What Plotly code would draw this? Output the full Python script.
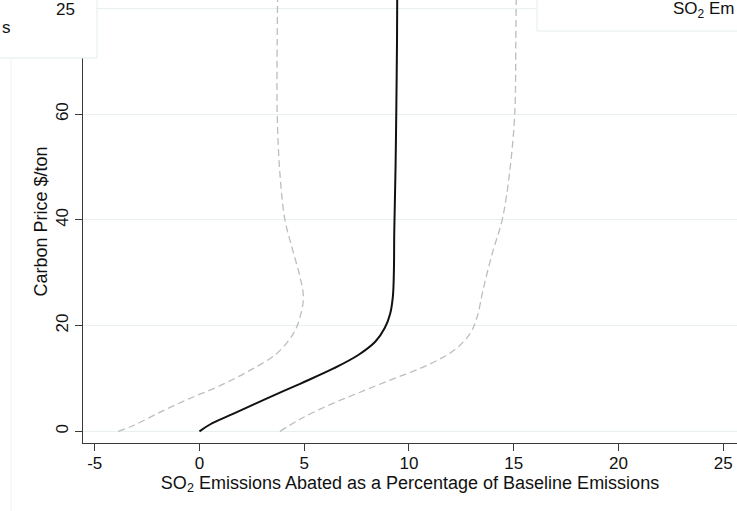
import plotly.graph_objects as go

# Central estimate: abatement (%) vs carbon price ($/ton)
fit_abate = [0, 0.5, 1.6, 3.2, 4.8, 6.4, 7.6, 8.4, 8.85, 9.1, 9.23, 9.28, 9.3, 9.36, 9.4, 9.43, 9.44]
fit_price = [0, 1.3, 3.3, 6.2, 9.0, 11.9, 14.5, 17.0, 19.6, 22.2, 25.4, 30, 38, 50, 62, 74, 82]

# Lower confidence bound
lo_abate = [-3.88, -3.1, -1.9, -0.6, 0.9, 2.41, 3.68, 4.48, 4.80, 4.96, 4.80, 4.45, 4.08, 3.84, 3.71, 3.71, 3.73]
lo_price = [0, 1.2, 3.6, 6.0, 8.5, 11.55, 14.7, 18.5, 21.6, 25.4, 29.2, 34.3, 40, 48.8, 60.2, 74, 82]

# Upper confidence bound
hi_abate = [3.84, 4.8, 6.2, 7.6, 9.1, 10.7, 12.1, 12.9, 13.25, 13.55, 14.0, 14.45, 14.8, 15.05, 15.1, 15.12]
hi_price = [0, 2.3, 5.0, 7.3, 9.7, 12.2, 15.2, 18.4, 21.6, 27, 34, 40, 48.8, 60, 74, 82]

x_ticks = [-5, 0, 5, 10, 15, 20, 25]
x_tick_labels = ["-5", "0", "5", "10", "15", "20", "25"]
y_ticks = [0, 20, 40, 60, 80]
y_tick_labels = ["0", "20", "40", "60", ""]  # 80 is hidden behind the overlapping panel

W, H = 737, 511
ML, MB = 83, 68
PW, PH = W - ML, H - MB

def px(x):
    return (x - ML) / PW

def py(y):
    return (H - MB - y) / PH

FONT = "Liberation Sans, Arial, Helvetica, sans-serif"
dash_col = "#bdbdbd"

fig = go.Figure()
fig.add_trace(go.Scatter(x=lo_abate, y=lo_price, mode="lines", line_shape="spline",
                         line=dict(color=dash_col, width=1.3, dash="7px,4px"), showlegend=False))
fig.add_trace(go.Scatter(x=hi_abate, y=hi_price, mode="lines", line_shape="spline",
                         line=dict(color=dash_col, width=1.3, dash="7px,4px"), showlegend=False))
fig.add_trace(go.Scatter(x=fit_abate, y=fit_price, mode="lines", line_shape="spline",
                         line=dict(color="#111111", width=2), showlegend=False))

axis_col = "#3a3a3a"
fig.update_xaxes(range=[-5.56, 25.66], tickvals=x_ticks, ticktext=x_tick_labels,
                 ticks="outside", ticklen=7,
                 tickcolor=axis_col, showline=True, linecolor=axis_col, linewidth=1.2,
                 showgrid=False, zeroline=False, tickfont=dict(size=17, color="#111"),
                 automargin=False, ticklabelstandoff=-3,
                 title=dict(text="SO<sub>2</sub> Emissions Abated as a Percentage of Baseline Emissions",
                            font=dict(size=18, color="#111"), standoff=4))
fig.update_yaxes(range=[-2.2, 81.6], tickvals=y_ticks, ticktext=y_tick_labels,
                 ticks="outside", ticklen=7,
                 tickcolor=axis_col, showline=True, linecolor=axis_col, linewidth=1.2,
                 showgrid=True, gridcolor="#e8f0f2", gridwidth=1, zeroline=False,
                 tickangle=-90, tickfont=dict(size=17, color="#111"), automargin=False,
                 title=dict(text="Carbon Price $/ton", font=dict(size=18, color="#111"), standoff=0))

shapes = [
    dict(type="line", xref="paper", yref="paper", x0=px(11), x1=px(11), y0=py(58), y1=py(511),
         line=dict(color="#eef3f5", width=1), layer="above"),
    dict(type="rect", xref="paper", yref="paper", x0=px(-2), x1=px(97), y0=py(58), y1=py(-5),
         fillcolor="white", line=dict(color="#e3ecee", width=1), layer="above"),
    dict(type="rect", xref="paper", yref="paper", x0=px(537), x1=px(740), y0=py(31), y1=py(-5),
         fillcolor="white", line=dict(color="#e3ecee", width=1), layer="above"),
]
annotations = [
    dict(text="25", xref="paper", yref="paper", x=px(77), y=py(9), xanchor="right", yanchor="middle",
         showarrow=False, font=dict(size=17, color="#111", family=FONT)),
    dict(text="s", xref="paper", yref="paper", x=px(0), y=py(28), xanchor="left", yanchor="middle",
         showarrow=False, font=dict(size=17, color="#111", family=FONT)),
    dict(text="SO<sub>2</sub> Em", xref="paper", yref="paper", x=px(736), y=py(10), xanchor="right",
         yanchor="middle", showarrow=False, font=dict(size=17, color="#111", family=FONT)),
]

fig.update_layout(width=W, height=H, margin=dict(l=ML, r=0, t=0, b=MB),
                  plot_bgcolor="white", paper_bgcolor="white",
                  font=dict(family=FONT, color="#111"),
                  shapes=shapes, annotations=annotations)

fig.write_html("out.html", config={"displayModeBar": False},
               post_script="document.body.style.margin='0';")
